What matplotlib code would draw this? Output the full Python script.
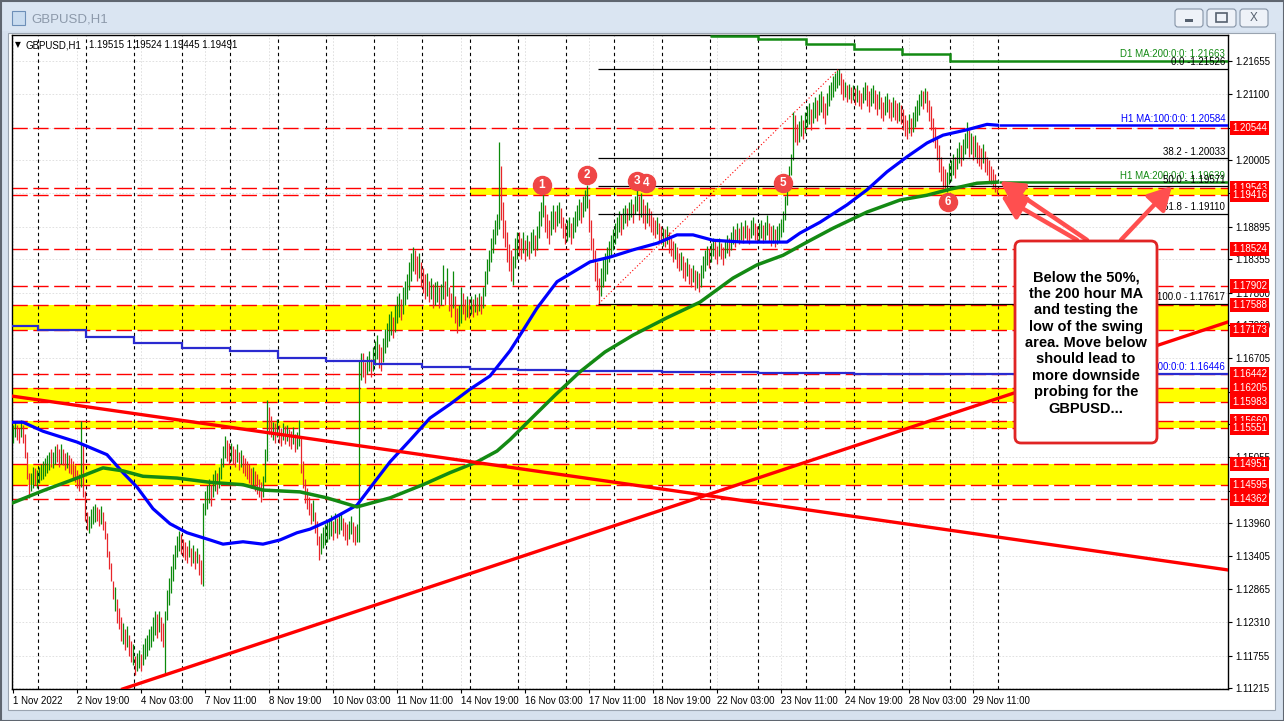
#!/usr/bin/env python3
"""GBPUSD H1 chart, MT4 style: candles, moving averages, levels, fib and a note."""
import matplotlib
matplotlib.use('Agg')
import matplotlib.pyplot as plt
from matplotlib.patches import Rectangle, FancyBboxPatch
from matplotlib.transforms import blended_transform_factory

plt.rcParams['font.family'] = ['Liberation Sans', 'DejaVu Sans']

W, H = 1284, 721

# ---- data: prices in pips above 1.1000, bar 0 = 1 Nov 11:00, one bar per hour ----
lows = [
    530, 540, 535, 530, 540, 530, 505, 470, 438, 450, 455, 460, 455,                      # 1 Nov
    462, 468, 470, 475, 480, 485, 490, 488, 495, 498, 490, 495, 492, 485, 488, 480, 478, 470, 465, 455, 450, 456, 440, 400,  # 2 Nov
    385, 380, 388, 395, 398, 400, 392, 395, 385, 370, 340, 320, 300, 270, 250, 230, 220, 200, 195, 185, 190, 175, 165, 160,  # 3 Nov
    143, 150, 155, 150, 160, 170, 175, 185, 190, 200, 210, 205, 215, 200, 190, 143, 235, 260, 280, 300, 320, 340, 350, 345,  # 4 Nov
    340, 335, 330, 340, 325, 330, 320, 330, 310, 295, 292, 410, 420, 430, 425, 440, 450, 445, 455, 470, 490, 505, 500, 495,  # 7 Nov
    500, 495, 490, 498, 485, 490, 480, 475, 470, 462, 455, 460, 450, 445, 440, 432, 440, 465, 500, 545, 540, 535, 530, 540,  # 8 Nov
    530, 525, 535, 528, 532, 525, 520, 528, 515, 520, 525, 480, 455, 430, 420, 410, 395, 400, 380, 360, 335, 345, 355, 360,  # 9 Nov
    365, 370, 375, 368, 380, 372, 378, 385, 375, 368, 360, 370, 378, 365, 360, 364, 364, 635, 640, 630, 645, 650, 640, 650,  # 10 Nov
    660, 670, 655, 650, 665, 680, 690, 700, 710, 705, 715, 730, 740, 735, 745, 760, 770, 785, 800, 815, 810, 800, 805, 790,  # 11 Nov
    780, 770, 775, 765, 770, 755, 760, 765, 755, 760, 770, 760, 775, 750, 740, 755, 730, 713, 725, 730, 745, 735, 740, 738,  # 14 Nov
    745, 740, 748, 742, 750, 745, 755, 775, 795, 815, 830, 845, 860, 875, 885, 900, 870, 855, 830, 815, 800, 793, 820, 835,  # 15 Nov
    840, 835, 845, 832, 840, 835, 845, 850, 840, 850, 870, 890, 905, 880, 870, 860, 875, 885, 880, 890, 895, 888, 870, 860,  # 16 Nov
    865, 872, 860, 870, 880, 890, 900, 895, 905, 915, 920, 880, 850, 830, 800, 785, 762, 775, 790, 800, 810, 830, 840, 850,  # 17 Nov
    860, 870, 880, 875, 885, 895, 890, 900, 905, 895, 910, 915, 900, 905, 895, 885, 895, 890, 880, 875, 870, 878, 865, 860,  # 18 Nov
    858, 855, 860, 845, 840, 830, 835, 820, 815, 818, 805, 800, 808, 795, 790, 798, 785, 788, 781, 790, 805, 815, 825, 820,  # 21 Nov
    830, 840, 835, 828, 840, 835, 826, 838, 845, 840, 850, 860, 855, 865, 860, 868, 862, 870, 865, 860, 870, 875, 868, 862,  # 22 Nov
    865, 870, 862, 868, 875, 865, 858, 862, 855, 860, 865, 872, 880, 900, 925, 950, 975, 1000, 1030, 1026, 1030, 1040, 1035, 1045,  # 23 Nov
    1055, 1060, 1050, 1062, 1070, 1065, 1075, 1080, 1070, 1060, 1075, 1090, 1100, 1105, 1115, 1120, 1125, 1110, 1100, 1105, 1098, 1102, 1095, 1100,  # 24 Nov
    1092, 1098, 1090, 1085, 1095, 1100, 1090, 1080, 1090, 1095, 1085, 1075, 1085, 1070, 1065, 1075, 1080, 1070, 1065, 1072, 1068, 1062, 1066, 1060,  # 25 Nov
    1050, 1040, 1035, 1045, 1040, 1048, 1055, 1065, 1075, 1090, 1085, 1095, 1080, 1065, 1050, 1030, 1020, 1000, 980, 965, 955, 950, 947, 960,  # 28 Nov
    965, 975, 970, 985, 995, 990, 1000, 1010, 1020, 1005, 1010, 1000, 1005, 995, 990, 985, 995, 980, 975, 965, 960, 955, 948, 944,  # 29 Nov
]
highs = [
    560, 566, 560, 555, 568, 560, 545, 515, 480, 480, 490, 488, 485,
    490, 495, 500, 505, 510, 515, 520, 515, 525, 528, 520, 527, 520, 512, 515, 510, 505, 500, 492, 485, 478, 566, 530, 450,
    415, 408, 420, 425, 428, 423, 420, 425, 415, 400, 380, 350, 330, 300, 290, 270, 255, 240, 230, 220, 225, 210, 200, 195,
    175, 180, 185, 178, 195, 205, 210, 220, 225, 240, 250, 245, 250, 240, 230, 250, 285, 305, 325, 345, 360, 375, 383, 378,
    370, 365, 358, 368, 355, 360, 350, 355, 345, 335, 430, 450, 460, 470, 460, 478, 485, 480, 490, 505, 525, 541, 535, 530,
    530, 525, 520, 528, 515, 518, 510, 505, 500, 495, 488, 490, 482, 478, 470, 465, 475, 520, 601, 590, 575, 565, 562, 570,
    560, 555, 562, 558, 560, 552, 550, 556, 545, 548, 568, 540, 500, 470, 455, 440, 430, 435, 415, 400, 375, 380, 390, 395,
    400, 405, 410, 400, 413, 405, 410, 415, 405, 398, 395, 400, 408, 398, 392, 395, 668, 680, 679, 665, 675, 682, 670, 690,
    700, 710, 695, 690, 705, 720, 730, 745, 750, 740, 760, 775, 780, 770, 790, 800, 810, 830, 845, 856, 850, 840, 845, 830,
    820, 810, 812, 800, 805, 795, 798, 800, 790, 795, 826, 800, 820, 790, 780, 815, 775, 755, 760, 790, 780, 770, 775, 770,
    775, 770, 778, 772, 780, 775, 790, 815, 835, 850, 870, 885, 900, 911, 1031, 990, 930, 900, 880, 860, 850, 840, 870, 880,
    880, 870, 880, 868, 875, 865, 880, 885, 875, 890, 915, 930, 946, 925, 910, 900, 915, 925, 915, 925, 930, 920, 905, 895,
    900, 905, 895, 905, 915, 925, 935, 930, 940, 950, 959, 935, 900, 870, 850, 830, 805, 820, 835, 845, 855, 865, 875, 885,
    895, 905, 915, 910, 920, 925, 920, 930, 935, 928, 940, 954, 940, 945, 935, 925, 930, 920, 915, 905, 900, 905, 895, 890,
    888, 885, 890, 880, 870, 865, 862, 855, 845, 848, 840, 830, 838, 828, 820, 825, 818, 815, 812, 825, 840, 850, 858, 852,
    862, 870, 865, 858, 870, 862, 856, 866, 875, 870, 880, 890, 885, 895, 888, 898, 890, 900, 892, 888, 900, 905, 895, 890,
    895, 900, 892, 898, 909, 895, 890, 892, 885, 890, 895, 902, 915, 940, 965, 990, 1010, 1081, 1075, 1060, 1065, 1075, 1068, 1080,
    1090, 1095, 1085, 1098, 1105, 1100, 1110, 1115, 1108, 1095, 1112, 1125, 1130, 1140, 1145, 1150, 1153, 1145, 1135, 1130, 1125, 1128, 1122, 1125,
    1120, 1125, 1118, 1112, 1122, 1130, 1125, 1115, 1120, 1125, 1118, 1110, 1115, 1105, 1098, 1108, 1112, 1102, 1098, 1105, 1100, 1095, 1098, 1092,
    1085, 1075, 1068, 1078, 1070, 1080, 1090, 1100, 1110, 1118, 1115, 1121, 1115, 1100, 1090, 1070, 1055, 1040, 1025, 1005, 990, 985, 980, 995,
    1000, 1010, 1005, 1020, 1030, 1025, 1035, 1045, 1064, 1050, 1045, 1040, 1042, 1030, 1025, 1020, 1028, 1015, 1005, 1000, 990, 985, 978, 952,
]
# u = up (green) bar, d = down (red) bar
dirs = ("uuddud ddduud u"
        "uuuuuu duuddu dduddd dddudd" "duuuud dudddd dduddd ududdu"
        "duuduu uuuuud udduuu uuuuud" "dddudu dudduu uuduud uuuudd"
        "uddudu dddddu dddduu uddudu" "ddudud duduud dddddu ddduuu"
        "uuudud uudddu udduuu dduudu" "uudduu uuuduu uduuuu uuddud"
        "ddudud uuduud uddudd uuddud" "ududud uuuuuu uuuddd ddduuu"
        "ddudud uuduuu uddduu duuddd" "uuduuu uduuud dddddu uuuuuu"
        "uuuduu duuduu duddud dddudd" "ududdd uddudd uddudu duuuud"
        "uuddud duuduu dududu dduudd" "uuduud duduuu uuuuuu dduudu"
        "uuduud uudduu uuuuud dududu" "dudduu dduudd udduud duddud"
        "dddudu uuuudu dddddd dddduu" "uuduud uuudud udddud dddddd").replace(' ', '')

# H1 MA(100) and H1 MA(200), read at bar positions (pips)
ma100_bars = [-1.5, 5, 15, 32, 47, 55, 62, 70, 78.5, 87, 98.5, 105, 115, 125, 133.5, 142, 148.5,
              158.5, 165, 172, 180, 188.5, 198.5, 208.5, 218.5, 228.5, 238.5, 248.5, 253.5, 262,
              272, 280, 288.5, 298.5, 310, 322, 332, 340, 350, 365, 387, 393.5, 403.5, 417, 427,
              437, 447, 457, 465, 477, 487, 493]
ma100_vals = [564, 564, 549, 531, 510, 480, 456, 420, 395, 380, 368, 361, 365, 361, 368, 380, 386,
              401, 413, 426, 461, 498, 534, 571, 594, 619, 641, 683, 709, 754, 798, 814, 831, 839,
              851, 862, 876, 876, 867, 864, 864, 879, 897, 926, 951, 981, 1006, 1029, 1042, 1051,
              1060, 1058.4]
ma200_bars = [-1.5, 15, 32, 45, 55, 65, 82, 98.5, 115, 125, 143.5, 157, 172, 188.5, 205, 218.5,
              232, 242, 248.5, 258.5, 271, 283.5, 296, 310, 327, 343.5, 360, 372, 385, 397, 410,
              427, 443.5, 457, 468.5, 482, 493]
ma200_vals = [428, 450, 471, 488, 483, 474, 471, 464, 460, 451, 448, 438, 423, 438, 460, 480, 498,
              516, 535, 568, 609, 648, 681, 709, 738, 764, 804, 826, 842, 864, 887, 914, 934, 942,
              952, 962, 963.9]

# daily moving averages (one value per trading day, pips)
day_edges = [-0.5] + [12.5 + 24 * k for k in range(21)] + [607.5]
d1ma100_vals = [724, 718, 706, 696, 688, 683, 671, 666, 661, 656, 653, 651, 650, 649, 648, 647,
                646, 646, 645, 645, 645, 644.6]
d1ma200_edges = [348.5, 372.5, 396.5, 420.5, 444.5, 468.5, 607.5]
d1ma200_vals = [1207, 1202, 1193, 1185.5, 1177, 1166.3]

# support / resistance levels and yellow zones
levels = [1.20544, 1.19543, 1.19416, 1.18524, 1.17902, 1.17588, 1.17173, 1.16442,
          1.16205, 1.15983, 1.15660, 1.15551, 1.14951, 1.14595, 1.14362]
zones = [(1.19416, 1.19543, 228.5), (1.17173, 1.17588, -0.5), (1.15983, 1.16205, -0.5),
         (1.15551, 1.15660, -0.5), (1.14595, 1.14951, -0.5)]

# trend lines: two anchor points (bar, price)
trend_lines = [((0, 1.16073), (600, 1.13216)), ((55, 1.11200), (600, 1.17227))]

# fibonacci retracement swing low -> high
fib_low = (293, 1.17617)
fib_high = (413, 1.21526)
fib_labels = ['0.0 -1.21526', '38.2 - 1.20033', '50.0 - 1.19571', '61.8 - 1.19110', '100.0 - 1.17617']
fib_prices = [1.21526, 1.20033, 1.19571, 1.19110, 1.17617]

# numbered swing highs/lows
marks = [('1', 264.5, 1.19590), ('2', 287, 1.19757), ('3', 312, 1.19665),
         ('4', 316.5, 1.19622), ('5', 385, 1.19622), ('6', 467.5, 1.19308)]

# arrows (tail bar, tail price, tip bar, tip price)
arrows = [(537, 1.18675, 493.5, 1.19657), (532, 1.18675, 494, 1.19407), (554, 1.18675, 579.5, 1.19574)]

time_labels = ['1 Nov 2022', '2 Nov 19:00', '4 Nov 03:00', '7 Nov 11:00', '8 Nov 19:00',
               '10 Nov 03:00', '11 Nov 11:00', '14 Nov 19:00', '16 Nov 03:00', '17 Nov 11:00',
               '18 Nov 19:00', '22 Nov 03:00', '23 Nov 11:00', '24 Nov 19:00', '28 Nov 03:00',
               '29 Nov 11:00']
price_ticks = [1.21655, 1.21100, 1.20545, 1.20005, 1.19450, 1.18895, 1.18355, 1.17800, 1.17260,
               1.16705, 1.16150, 1.15610, 1.15055, 1.14500, 1.13960, 1.13405, 1.12865, 1.12310,
               1.11755, 1.11215]
# tick labels fully covered by the red level boxes
hidden_ticks = [1.20545, 1.19450, 1.16150, 1.15610]

note = ("Below the 50%,\nthe 200 hour MA\nand testing the\nlow of the swing\n"
        "area. Move below\nshould lead to\nmore downside\nprobing for the\nGBPUSD...")

UP, DOWN = '#0b8a0b', '#e8262b'
RED = '#ff0000'


def pr(v):
    return 1.1 + v / 10000.0


fig = plt.figure(figsize=(W / 100, H / 100), dpi=100, facecolor='#d6e1ee')


def prect(x0, y0, x1, y1, **kw):
    # rectangle in screenshot pixels (origin top-left)
    return Rectangle((x0 / 100, (H - y1) / 100), (x1 - x0) / 100, (y1 - y0) / 100,
                     transform=fig.dpi_scale_trans, **kw)


# window frame
fig.add_artist(prect(0, 0, W, 31, fc='#dae5f2', ec='none', zorder=-3))
fig.add_artist(prect(8, 33, 1275, 710, fc='white', ec='#9aa4b0', lw=0.8, zorder=-2))
fig.add_artist(prect(0.5, 0.5, W - 0.5, H - 0.5, fill=False, ec='#5f6670', lw=1.5, zorder=-1))
fig.add_artist(prect(12, 11, 25, 25, fc='#c9dcf0', ec='#6d8fb8', lw=0.8, zorder=-1))
fig.text(31 / W, 1 - 19 / H, 'GBPUSD,H1', fontsize=9.5, color='#8c99aa', va='center')
for bx0, bx1 in [(1175, 1203), (1207, 1236), (1240, 1268)]:
    fig.add_artist(FancyBboxPatch((bx0 / 100, (H - 27) / 100), (bx1 - bx0) / 100, 0.18,
                                  boxstyle='round,pad=0,rounding_size=0.03',
                                  transform=fig.dpi_scale_trans, fc='#eef2f8', ec='#8593a6', lw=0.8))
fig.add_artist(prect(1185, 19, 1193, 21.5, fc='#55606e', ec='none'))
fig.add_artist(prect(1216, 13, 1227, 22, fc='none', ec='#55606e', lw=1.2))
fig.text(1254 / W, 1 - 18 / H, 'X', fontsize=8.5, color='#55606e', ha='center', va='center')

ax = fig.add_axes([12 / W, 1 - 689 / H, 1216 / W, 654 / H])
ax.set_xlim(-0.5, 607.5)
ax.set_ylim(1.11198, 1.22088)
ax.set_axisbelow(True)
for s in ax.spines.values():
    s.set_color('black')
    s.set_linewidth(1)

# axes ticks
ax.yaxis.tick_right()
ax.set_yticks(price_ticks)
ax.set_yticklabels(['' if p in hidden_ticks else f'{p:.5f}' for p in price_ticks])
ax.set_xticks(list(range(0, 32 * len(time_labels), 32)))
ax.set_xticklabels(time_labels, ha='left')
ax.tick_params(axis='both', labelsize=7, length=3, width=0.8, pad=2, color='black')
ax.grid(True, color='#dcdcdc', ls=(0, (2, 2)), lw=0.6)

# day separators
for e in day_edges[1:-1]:
    ax.axvline(e, color='black', ls=(0, (3, 3)), lw=0.8, zorder=1.5)

# zones and levels
for lo, hi, start in zones:
    ax.fill_between([start, 607.5], lo, hi, color='#ffff00', lw=0, zorder=1)
for lvl in levels:
    ax.axhline(lvl, color=RED, ls=(0, (11, 4)), lw=1, zorder=2)

# candles (one vertical line per hour)
n = min(len(lows), len(highs), len(dirs))
for key, col in (('u', UP), ('d', DOWN)):
    idx = [i for i in range(n) if dirs[i] == key]
    ax.vlines(idx, [pr(lows[i]) for i in idx], [pr(highs[i]) for i in idx],
              color=col, lw=0.9, zorder=3)

# fibonacci
ax.hlines(fib_prices, fib_low[0] - 0.5, 607.5, color='black', lw=0.9, zorder=3.5)
ax.plot([fib_low[0], fib_high[0]], [fib_low[1], fib_high[1]], color=RED,
        ls=(0, (1, 2)), lw=0.8, zorder=3.5)

# moving averages
ax.stairs([pr(v) for v in d1ma100_vals], day_edges, baseline=None, color='#2a2ad0', lw=1.6, zorder=3.6)
ax.stairs([pr(v) for v in d1ma200_vals], d1ma200_edges, baseline=None, color='#138a13', lw=1.8, zorder=3.6)
ax.plot(ma100_bars, [pr(v) for v in ma100_vals], color='#0000ff', lw=2.3, zorder=4,
        solid_capstyle='butt')
ax.hlines(pr(ma100_vals[-1]), ma100_bars[-1], 607.5, color='#0000ff', lw=1.8, zorder=4)
ax.plot(ma200_bars, [pr(v) for v in ma200_vals], color='#138a13', lw=2.5, zorder=4,
        solid_capstyle='butt')
ax.hlines(pr(ma200_vals[-1]), ma200_bars[-1], 607.5, color='#138a13', lw=1.8, zorder=4)

# trend lines
for p0, p1 in trend_lines:
    ax.axline(p0, p1, color=RED, lw=2.4, zorder=4.5)

# right side text labels
bt = blended_transform_factory(ax.transAxes, ax.transData)
right_labels = [('D1 MA:200:0:0: 1.21663', pr(d1ma200_vals[-1]), '#138a13'),
                ('H1 MA:100:0:0: 1.20584', pr(ma100_vals[-1]), '#0000ff'),
                ('H1 MA:200:0:0: 1.19639', pr(ma200_vals[-1]), '#138a13'),
                ('D1 MA:100:0:0: 1.16446', pr(d1ma100_vals[-1]), '#0000ff')]
right_labels += [(t, p, 'black') for t, p in zip(fib_labels, fib_prices)]
for txt, p, col in right_labels:
    ax.annotate(txt, xy=(1.0, p), xycoords=bt, xytext=(-2, 1), textcoords='offset points',
                ha='right', va='bottom', fontsize=7, color=col, zorder=5)

# red price boxes on the axis
for lvl in levels:
    ax.text(1.0 + 4 / 1216, lvl, f'{lvl:.5f}', transform=bt, ha='left', va='center',
            fontsize=7, color='white', clip_on=False, zorder=6,
            bbox=dict(boxstyle='square,pad=0.2', fc=RED, ec='none'))

# numbered circles
for num, b, p in marks:
    ax.plot(b, p, 'o', ms=13, mfc='#ef4646', mec='#ef4646', zorder=7)
    ax.text(b, p, num, ha='center', va='center', color='white', fontsize=8.5,
            fontweight='bold', zorder=7.5)

# arrows
for x0, y0, x1, y1 in arrows:
    ax.annotate('', xy=(x1, y1), xytext=(x0, y0), zorder=8,
                arrowprops=dict(arrowstyle='-|>,head_length=1.0,head_width=0.55',
                                mutation_scale=14, color='#ff4f4f', lw=3.2,
                                shrinkA=0, shrinkB=0))

# chart header text
fig.text(15 / W, 1 - 45 / H, '\u25bc', fontsize=5.5, va='center', family=['DejaVu Sans'])
fig.text(25 / W, 1 - 45 / H, 'GBPUSD,H1', fontsize=7, va='center')
fig.text(89 / W, 1 - 45 / H, '1.19515 1.19524 1.19445 1.19491', fontsize=7, va='center')

# note box
fig.add_artist(FancyBboxPatch((1015 / 100, (H - 443) / 100), 142 / 100, 202 / 100,
                              boxstyle='round,pad=0,rounding_size=0.06',
                              transform=fig.dpi_scale_trans, fc='white', ec='#e02424',
                              lw=2.0, zorder=5))
fig.text(1086 / W, 1 - 343 / H, note, ha='center', va='center', fontsize=10.5,
         fontweight='bold', linespacing=1.22, multialignment='center', zorder=6)

fig.savefig('out.png', dpi=100, facecolor=fig.get_facecolor())
